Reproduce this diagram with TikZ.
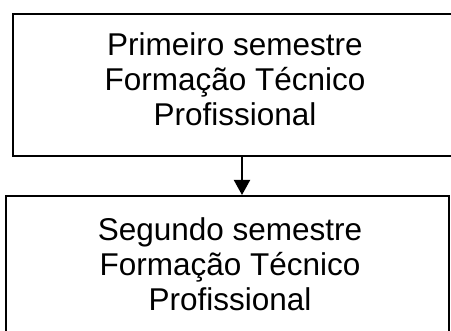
\documentclass[tikz,border=0pt]{standalone}
\usepackage{fontspec}
\setmainfont{Liberation Sans}
\usetikzlibrary{arrows.meta}
\begin{document}
\begin{tikzpicture}[x=1pt,y=1pt,
  boxstyle/.style={draw=black, line width=2pt, rectangle, inner sep=0pt},
  label/.style={inner sep=0pt, align=center,
    font=\fontsize{31.5}{35}\selectfont},
  arr/.style={line width=2pt, -{Triangle[width=16pt,length=15pt]}}]
  \clip (0,0) rectangle (451,331);
  \useasboundingbox (0,0) rectangle (451,331);
  \node[boxstyle, minimum width=444pt, minimum height=142pt] (top) at (235,246) {};
  \node[boxstyle, minimum width=443pt, minimum height=144pt] (bot) at (227.5,63) {};
  \node[label] (toptext) at (235,252) {Primeiro semestre\\Formação Técnico\\Profissional};
  \node[label] (bottext) at (230,67) {Segundo semestre\\Formação Técnico\\Profissional};
  \coordinate (ax) at (242,0);
  \draw[arr] (top.south -| ax) -- (bot.north -| ax);
\end{tikzpicture}
\end{document}
